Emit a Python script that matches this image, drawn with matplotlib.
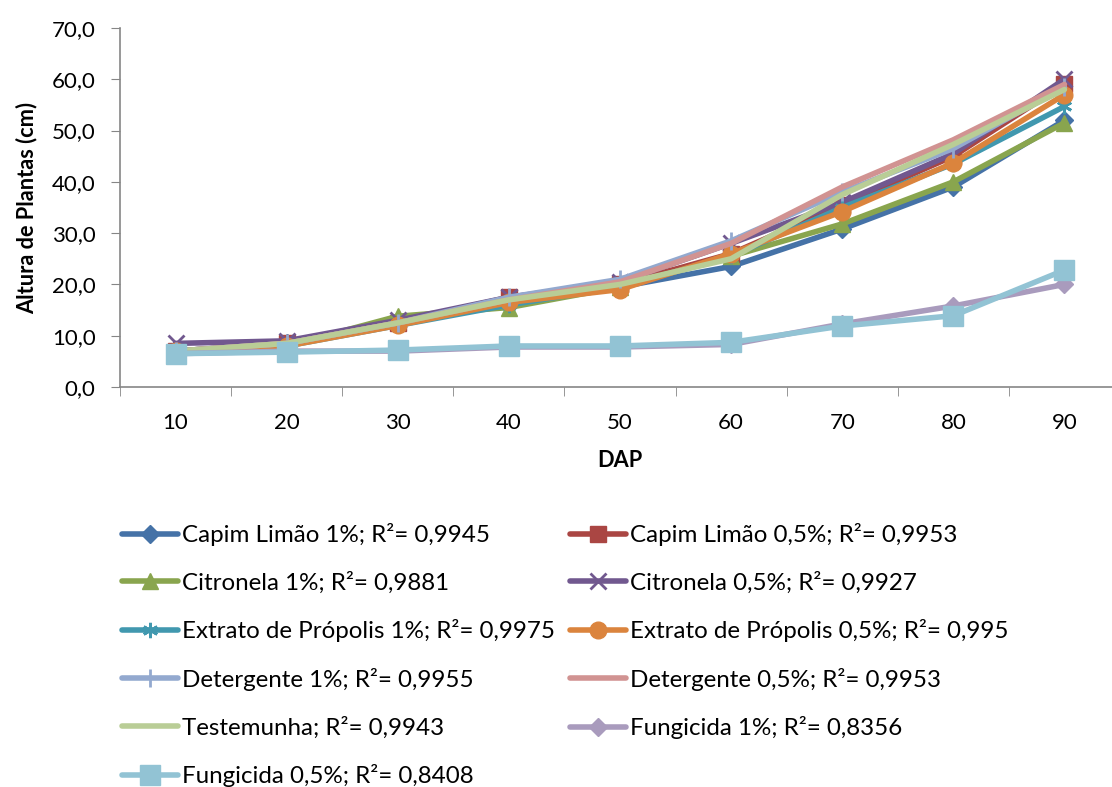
import matplotlib
matplotlib.use("Agg")
import matplotlib.pyplot as plt
from matplotlib.ticker import FuncFormatter

plt.rcParams['font.family'] = ['Lato', 'DejaVu Sans']

dap = [10, 20, 30, 40, 50, 60, 70, 80, 90]

capim_1 = [7.0, 8.5, 12.5, 16.5, 19.5, 23.5, 30.8, 39.0, 52.0]
capim_05 = [7.0, 8.5, 12.5, 17.5, 20.0, 26.0, 35.5, 45.0, 59.0]
citro_1 = [7.0, 8.0, 13.8, 15.5, 19.5, 25.5, 31.8, 40.0, 51.5]
citro_05 = [8.5, 9.0, 13.0, 17.5, 20.5, 28.0, 36.0, 45.5, 60.0]
prop_1 = [7.0, 8.0, 12.0, 16.0, 19.5, 25.5, 35.0, 43.5, 54.7]
prop_05 = [7.0, 8.0, 12.0, 16.5, 19.0, 26.0, 34.2, 43.7, 57.0]
det_1 = [7.0, 8.5, 12.5, 17.5, 21.0, 28.5, 38.0, 46.5, 58.5]
det_05 = [7.0, 8.5, 12.5, 17.0, 20.5, 28.0, 39.0, 48.2, 59.0]
testem = [7.0, 8.5, 12.5, 17.0, 20.0, 25.0, 37.5, 47.3, 58.0]
fung_1 = [6.5, 7.0, 7.0, 7.8, 7.8, 8.3, 12.3, 15.8, 20.0]
fung_05 = [6.5, 6.8, 7.2, 8.0, 8.0, 8.7, 11.9, 13.9, 22.8]

labels = [
    "Capim Limão 1%; R²= 0,9945",
    "Capim Limão 0,5%; R²= 0,9953",
    "Citronela 1%; R²= 0,9881",
    "Citronela 0,5%; R²= 0,9927",
    "Extrato de Própolis 1%; R²= 0,9975",
    "Extrato de Própolis 0,5%; R²= 0,995",
    "Detergente 1%; R²= 0,9955",
    "Detergente 0,5%; R²= 0,9953",
    "Testemunha; R²= 0,9943",
    "Fungicida 1%; R²= 0,8356",
    "Fungicida 0,5%; R²= 0,8408",
]
series = [capim_1, capim_05, citro_1, citro_05, prop_1, prop_05,
          det_1, det_05, testem, fung_1, fung_05]
colors = ["#4572A7", "#AA4643", "#89A54E", "#71588F", "#4198AF", "#DB843D",
          "#93A9CF", "#D19392", "#B9CD96", "#A99BBD", "#92C3D4"]
markers = ["D", "s", "^", "x", (6, 2, 0), "o", "|", None, None, "D", "s"]
msizes = [9, 11, 12, 11, 11, 12, 13, 0, 0, 9, 14]

fig = plt.figure(figsize=(11.12, 7.87), dpi=100)
ax = fig.add_axes([120 / 1112, 1 - 387 / 787, 1000 / 1112, 359 / 787])

xpos = list(range(len(dap)))
handles = []
for s, c, m, ms, lab in zip(series, colors, markers, msizes, labels):
    kw = dict(color=c, linewidth=4, solid_capstyle='round', label=lab)
    if m is not None:
        kw.update(marker=m, markersize=ms, markerfacecolor=c, markeredgecolor=c,
                  markeredgewidth=2 if m in ("x", "|") or isinstance(m, tuple) else 1)
    h, = ax.plot(xpos, s, **kw)
    handles.append(h)

ax.set_xlim(-0.5, len(dap) - 0.5)
ax.set_ylim(0, 70)
ax.set_yticks(range(0, 71, 10))
ax.yaxis.set_major_formatter(FuncFormatter(lambda v, p: f"{v:.1f}".replace(".", ",")))
ax.set_xticks(xpos)
ax.set_xticklabels([str(d) for d in dap])
ax.set_xticks([i - 0.5 for i in range(len(dap) + 1)], minor=True)
ax.tick_params(axis='x', which='major', length=0, pad=19, labelsize=16)
ax.tick_params(axis='x', which='minor', length=6.5, color='#868686', direction='out')
ax.tick_params(axis='y', length=6.5, color='#868686', labelsize=16, pad=11)
for sp in ['top', 'right']:
    ax.spines[sp].set_visible(False)
for sp in ['left', 'bottom']:
    ax.spines[sp].set_color('#868686')
    ax.spines[sp].set_linewidth(1.2)

ax.set_ylabel("Altura de Plantas (cm)", fontsize=15.7, fontweight='bold', labelpad=10)
ax.set_xlabel("DAP", fontsize=15.7, fontweight='bold', labelpad=12)

order = [0, 2, 4, 6, 8, 10, 1, 3, 5, 7, 9]
leg = fig.legend([handles[i] for i in order], [labels[i] for i in order],
                 ncol=2, loc='upper left', bbox_to_anchor=(122 / 1112, 1 - 523 / 787),
                 frameon=False, fontsize=17.35, handlelength=2.32, handletextpad=0.17,
                 columnspacing=0.62, labelspacing=1.06, borderpad=0, borderaxespad=0)

fig.savefig("out.png", dpi=100)
